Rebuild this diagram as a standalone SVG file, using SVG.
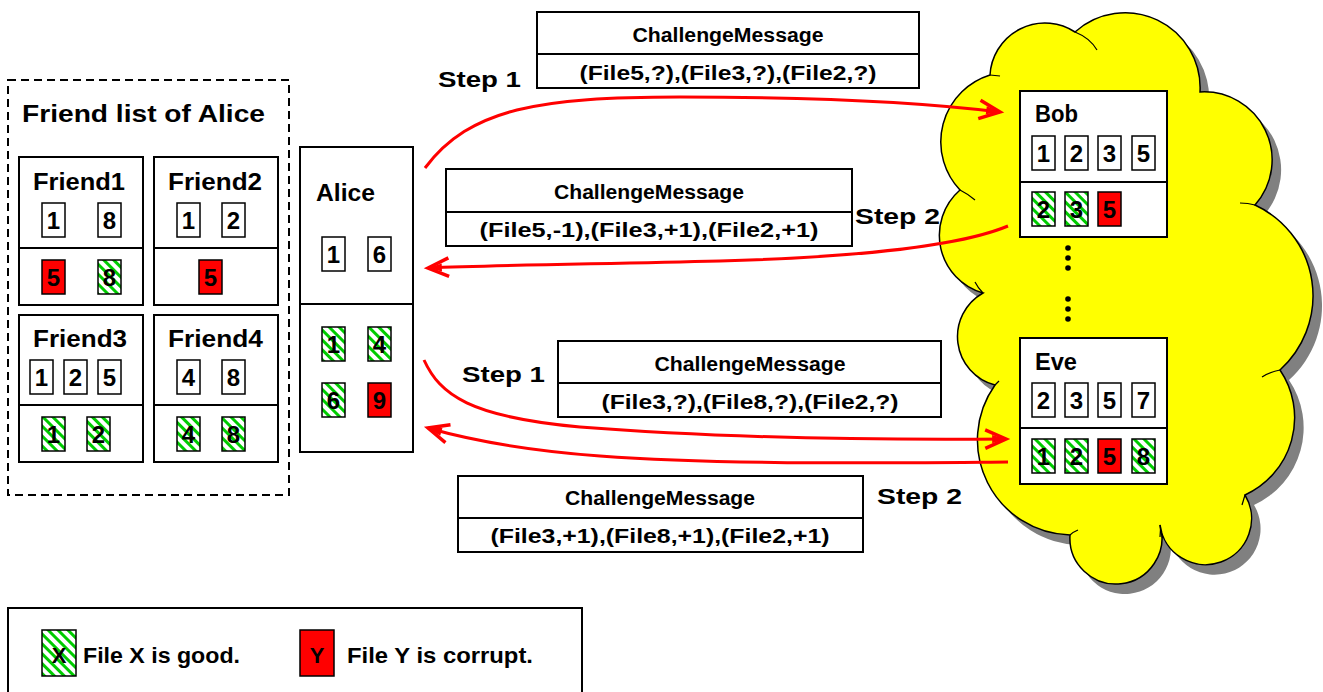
<svg xmlns="http://www.w3.org/2000/svg" width="1323" height="692" viewBox="0 0 1323 692">
<defs>
<style>
text{font-family:"Liberation Sans",Arial,sans-serif;font-weight:bold;fill:#000}
.box{fill:#fff;stroke:#000;stroke-width:2}
.ln{stroke:#000;stroke-width:2}
.f{stroke:#000;stroke-width:1.5;fill:#fff}
.g{stroke:#000;stroke-width:1.5;fill:url(#hatch)}
.r{stroke:#000;stroke-width:1.5;fill:#ff0000}
.d{font-size:24px;text-anchor:middle}
.lbl{font-size:24px}
.step{font-size:22px}
.mt{font-size:20px;text-anchor:middle}
.mc{font-size:21px;text-anchor:middle}
.arr{fill:none;stroke:#ff0000;stroke-width:3;marker-end:url(#ah)}
.hook{fill:none;stroke:#000;stroke-width:1.2}
</style>
<pattern id="hatch" patternUnits="userSpaceOnUse" width="7" height="7" patternTransform="rotate(-45)">
<rect width="7" height="7" fill="#fff"/>
<rect width="3" height="7" fill="#00cc00"/>
</pattern>
<marker id="ah" markerUnits="userSpaceOnUse" markerWidth="30" markerHeight="30" viewBox="-22 -12 26 24" refX="0" refY="0" orient="auto" overflow="visible">
<path d="M-18,-8 L0,0 L-18,8" fill="none" stroke="#ff0000" stroke-width="3"/>
<path d="M-12,-3.5 L0,0 L-12,3.5 Z" fill="#ff0000"/>
</marker>
</defs>

<g id="cloud">
<path transform="translate(9,10)" fill="#808080" d="M990,75 A55,55 0 0 1 1075,32 A75,75 0 0 1 1200,92 A68,68 0 0 1 1255,205 A100,100 0 0 1 1280,370 A85,85 0 0 1 1245,495 A46,46 0 1 1 1160,525 A46,46 0 1 1 1070,535 A95,95 0 0 1 995,385 A50,50 0 0 1 983,293 A60,60 0 0 1 960,190 A70,70 0 0 1 990,75 Z"/>
<path fill="#ffff00" stroke="#000" stroke-width="1.5" d="M990,75 A55,55 0 0 1 1075,32 A75,75 0 0 1 1200,92 A68,68 0 0 1 1255,205 A100,100 0 0 1 1280,370 A85,85 0 0 1 1245,495 A46,46 0 1 1 1160,525 A46,46 0 1 1 1070,535 A95,95 0 0 1 995,385 A50,50 0 0 1 983,293 A60,60 0 0 1 960,190 A70,70 0 0 1 990,75 Z"/>
<path class="hook" d="M1075,32 Q1090,38 1097,50"/>
<path class="hook" d="M990,75 L1000,76"/>
<path class="hook" d="M960,190 Q968,194 975,200"/>
<path class="hook" d="M1255,205 Q1248,203 1240,203"/>
<path class="hook" d="M1280,370 Q1270,372 1262,377"/>
<path class="hook" d="M1245,495 L1242,505"/>
<path class="hook" d="M1160,525 Q1161,530 1160,537"/>
<path class="hook" d="M1070,535 Q1073,532 1078,530"/>
<path class="hook" d="M995,385 Q997,383 999,381"/>
<path class="hook" d="M983,293 Q978,288 975,282"/>
</g>

<g id="friend-list">
<rect x="8" y="80" width="281" height="415" fill="none" stroke="#000" stroke-width="2" stroke-dasharray="8,5"/>
<text x="22" y="122" class="lbl" textLength="243" lengthAdjust="spacingAndGlyphs">Friend list of Alice</text>
</g>

<g id="friend1">
<rect class="box" x="19" y="157" width="124" height="148"/>
<line class="ln" x1="19" y1="248" x2="143" y2="248"/>
<text x="33" y="190" class="lbl" textLength="92" lengthAdjust="spacingAndGlyphs">Friend1</text>
<rect class="f" x="42" y="203" width="23" height="34"/><text class="d" x="53.5" y="229">1</text>
<rect class="f" x="98" y="203" width="23" height="34"/><text class="d" x="109.5" y="229">8</text>
<rect class="r" x="42" y="260" width="23" height="34"/><text class="d" x="53.5" y="286">5</text>
<rect class="g" x="98" y="260" width="23" height="34"/><text class="d" x="109.5" y="286">8</text>
</g>

<g id="friend2">
<rect class="box" x="154" y="157" width="124" height="148"/>
<line class="ln" x1="154" y1="248" x2="278" y2="248"/>
<text x="168" y="190" class="lbl" textLength="94" lengthAdjust="spacingAndGlyphs">Friend2</text>
<rect class="f" x="177" y="203" width="23" height="34"/><text class="d" x="188.5" y="229">1</text>
<rect class="f" x="222" y="203" width="23" height="34"/><text class="d" x="233.5" y="229">2</text>
<rect class="r" x="199" y="260" width="23" height="34"/><text class="d" x="210.5" y="286">5</text>
</g>

<g id="friend3">
<rect class="box" x="19" y="315" width="124" height="147"/>
<line class="ln" x1="19" y1="405" x2="143" y2="405"/>
<text x="33" y="347" class="lbl" textLength="94" lengthAdjust="spacingAndGlyphs">Friend3</text>
<rect class="f" x="30" y="360" width="23" height="34"/><text class="d" x="41.5" y="386">1</text>
<rect class="f" x="64" y="360" width="23" height="34"/><text class="d" x="75.5" y="386">2</text>
<rect class="f" x="98" y="360" width="23" height="34"/><text class="d" x="109.5" y="386">5</text>
<rect class="g" x="42" y="417" width="23" height="34"/><text class="d" x="53.5" y="443">1</text>
<rect class="g" x="87" y="417" width="23" height="34"/><text class="d" x="98.5" y="443">2</text>
</g>

<g id="friend4">
<rect class="box" x="154" y="315" width="124" height="147"/>
<line class="ln" x1="154" y1="405" x2="278" y2="405"/>
<text x="168" y="347" class="lbl" textLength="95" lengthAdjust="spacingAndGlyphs">Friend4</text>
<rect class="f" x="177" y="360" width="23" height="34"/><text class="d" x="188.5" y="386">4</text>
<rect class="f" x="222" y="360" width="23" height="34"/><text class="d" x="233.5" y="386">8</text>
<rect class="g" x="177" y="417" width="23" height="34"/><text class="d" x="188.5" y="443">4</text>
<rect class="g" x="222" y="417" width="23" height="34"/><text class="d" x="233.5" y="443">8</text>
</g>

<g id="alice">
<rect class="box" x="300" y="147" width="113" height="305"/>
<line class="ln" x1="300" y1="304" x2="413" y2="304"/>
<text x="316" y="201" class="lbl" textLength="59" lengthAdjust="spacingAndGlyphs">Alice</text>
<rect class="f" x="322" y="237" width="23" height="34"/><text class="d" x="333.5" y="263">1</text>
<rect class="f" x="368" y="237" width="23" height="34"/><text class="d" x="379.5" y="263">6</text>
<rect class="g" x="322" y="327" width="23" height="34"/><text class="d" x="333.5" y="353">1</text>
<rect class="g" x="368" y="327" width="23" height="34"/><text class="d" x="379.5" y="353">4</text>
<rect class="g" x="322" y="383" width="23" height="34"/><text class="d" x="333.5" y="409">6</text>
<rect class="r" x="368" y="383" width="23" height="34"/><text class="d" x="379.5" y="409">9</text>
</g>

<g id="bob">
<rect class="box" x="1020" y="91" width="147" height="146"/>
<line class="ln" x1="1020" y1="182" x2="1167" y2="182"/>
<text x="1035" y="122" class="lbl" textLength="43" lengthAdjust="spacingAndGlyphs">Bob</text>
<rect class="f" x="1032" y="136" width="23" height="34"/><text class="d" x="1043.5" y="162">1</text>
<rect class="f" x="1065" y="136" width="23" height="34"/><text class="d" x="1076.5" y="162">2</text>
<rect class="f" x="1098" y="136" width="23" height="34"/><text class="d" x="1109.5" y="162">3</text>
<rect class="f" x="1132" y="136" width="23" height="34"/><text class="d" x="1143.5" y="162">5</text>
<rect class="g" x="1032" y="192" width="23" height="34"/><text class="d" x="1043.5" y="218">2</text>
<rect class="g" x="1065" y="192" width="23" height="34"/><text class="d" x="1076.5" y="218">3</text>
<rect class="r" x="1098" y="192" width="23" height="34"/><text class="d" x="1109.5" y="218">5</text>
</g>

<g id="ellipsis">
<circle cx="1068" cy="248" r="2.8"/><circle cx="1068" cy="258" r="2.8"/><circle cx="1068" cy="268" r="2.8"/>
<circle cx="1068" cy="299" r="2.8"/><circle cx="1068" cy="309" r="2.8"/><circle cx="1068" cy="319" r="2.8"/>
</g>

<g id="eve">
<rect class="box" x="1020" y="338" width="147" height="146"/>
<line class="ln" x1="1020" y1="428" x2="1167" y2="428"/>
<text x="1035" y="370" class="lbl" textLength="42" lengthAdjust="spacingAndGlyphs">Eve</text>
<rect class="f" x="1032" y="383" width="23" height="34"/><text class="d" x="1043.5" y="409">2</text>
<rect class="f" x="1065" y="383" width="23" height="34"/><text class="d" x="1076.5" y="409">3</text>
<rect class="f" x="1098" y="383" width="23" height="34"/><text class="d" x="1109.5" y="409">5</text>
<rect class="f" x="1132" y="383" width="23" height="34"/><text class="d" x="1143.5" y="409">7</text>
<rect class="g" x="1032" y="439" width="23" height="34"/><text class="d" x="1043.5" y="465">1</text>
<rect class="g" x="1065" y="439" width="23" height="34"/><text class="d" x="1076.5" y="465">2</text>
<rect class="r" x="1098" y="439" width="23" height="34"/><text class="d" x="1109.5" y="465">5</text>
<rect class="g" x="1132" y="439" width="23" height="34"/><text class="d" x="1143.5" y="465">8</text>
</g>

<g id="connectors">
<path class="arr" d="M425,168 C470,108 540,97 680,97 C820,97 920,102 1000,112"/>
<path class="arr" d="M1008,226 C960,246 860,257 720,261 C600,264 500,265 428,268"/>
<path class="arr" d="M424,360 C440,395 470,417 580,427 C720,438 880,440 1006,439"/>
<path class="arr" d="M1008,462 C880,463 720,465 600,456 C520,450 470,440 428,428"/>
</g>

<g id="msg1">
<rect class="box" x="537" y="12" width="382" height="76"/>
<line class="ln" x1="537" y1="54" x2="919" y2="54"/>
<text class="mt" x="728" y="42" textLength="191" lengthAdjust="spacingAndGlyphs">ChallengeMessage</text>
<text class="mc" x="728" y="80" textLength="297" lengthAdjust="spacingAndGlyphs">(File5,?),(File3,?),(File2,?)</text>
</g>
<g id="msg2">
<rect class="box" x="446" y="169" width="406" height="77"/>
<line class="ln" x1="446" y1="212" x2="852" y2="212"/>
<text class="mt" x="649" y="199" textLength="190" lengthAdjust="spacingAndGlyphs">ChallengeMessage</text>
<text class="mc" x="649" y="237" textLength="339" lengthAdjust="spacingAndGlyphs">(File5,-1),(File3,+1),(File2,+1)</text>
</g>
<g id="msg3">
<rect class="box" x="558" y="341" width="383" height="76"/>
<line class="ln" x1="558" y1="383" x2="941" y2="383"/>
<text class="mt" x="750" y="371" textLength="191" lengthAdjust="spacingAndGlyphs">ChallengeMessage</text>
<text class="mc" x="750" y="409" textLength="297" lengthAdjust="spacingAndGlyphs">(File3,?),(File8,?),(File2,?)</text>
</g>
<g id="msg4">
<rect class="box" x="458" y="476" width="405" height="76"/>
<line class="ln" x1="458" y1="518" x2="863" y2="518"/>
<text class="mt" x="660" y="505" textLength="190" lengthAdjust="spacingAndGlyphs">ChallengeMessage</text>
<text class="mc" x="660" y="543" textLength="339" lengthAdjust="spacingAndGlyphs">(File3,+1),(File8,+1),(File2,+1)</text>
</g>

<g id="steps">
<text class="step" x="438" y="87" textLength="83" lengthAdjust="spacingAndGlyphs">Step 1</text>
<text class="step" x="855" y="224" textLength="85" lengthAdjust="spacingAndGlyphs">Step 2</text>
<text class="step" x="462" y="382" textLength="83" lengthAdjust="spacingAndGlyphs">Step 1</text>
<text class="step" x="877" y="504" textLength="85" lengthAdjust="spacingAndGlyphs">Step 2</text>
</g>

<g id="legend">
<rect class="box" x="8" y="608" width="574" height="100"/>
<rect class="g" x="42" y="630" width="34" height="46"/>
<text x="59" y="663" font-size="22" text-anchor="middle">X</text>
<text x="83" y="663" font-size="22" textLength="157" lengthAdjust="spacingAndGlyphs">File X is good.</text>
<rect class="r" x="300" y="630" width="34" height="46"/>
<text x="317" y="663" font-size="22" text-anchor="middle">Y</text>
<text x="347" y="663" font-size="22" textLength="186" lengthAdjust="spacingAndGlyphs">File Y is corrupt.</text>
</g>
</svg>
